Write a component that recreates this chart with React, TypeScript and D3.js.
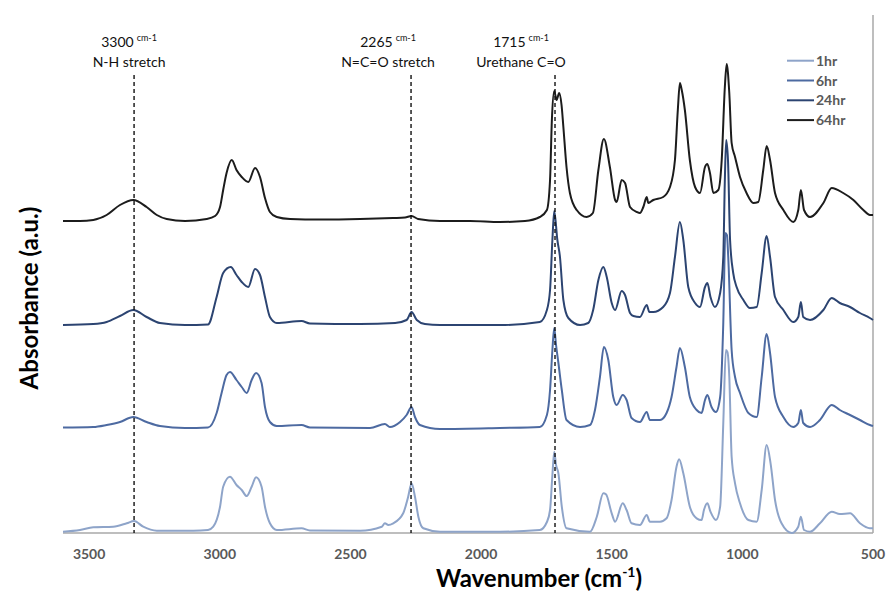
import React from "react";
import * as d3 from "d3";

// spectra: [wavenumber (cm-1), absorbance incl. stacking offset]
const hr1: [number, number][] = [
  [3600, 0.013], [3535, 0.03], [3484, 0.057], [3408, 0.063], [3356, 0.097], [3328, 0.12],
  [3293, 0.063], [3241, 0.023], [3101, 0.023], [3045, 0.03], [3025, 0.063], [2999, 0.263],
  [2987, 0.463], [2961, 0.563], [2936, 0.48], [2916, 0.43], [2897, 0.37], [2878, 0.463],
  [2861, 0.557], [2840, 0.463], [2827, 0.263], [2808, 0.097], [2782, 0.03], [2687, 0.047],
  [2655, 0.025], [2463, 0.023], [2380, 0.063], [2368, 0.097], [2355, 0.08], [2336, 0.097],
  [2298, 0.197], [2279, 0.363], [2266, 0.497], [2253, 0.363], [2240, 0.163], [2221, 0.047],
  [2157, 0.013], [1928, 0.013], [1775, 0.03], [1748, 0.11], [1736, 0.23], [1727, 0.58],
  [1720, 0.813], [1713, 0.68], [1704, 0.597], [1691, 0.263], [1673, 0.047], [1583, 0.013],
  [1557, 0.163], [1532, 0.397], [1522, 0.387], [1500, 0.197], [1487, 0.113], [1458, 0.297],
  [1443, 0.23], [1424, 0.097], [1392, 0.08], [1366, 0.18], [1354, 0.113], [1315, 0.113],
  [1290, 0.147], [1271, 0.33], [1252, 0.663], [1242, 0.737], [1226, 0.597], [1201, 0.263],
  [1175, 0.147], [1156, 0.13], [1147, 0.23], [1134, 0.297], [1122, 0.213], [1101, 0.13],
  [1085, 0.263], [1073, 1.097], [1063, 1.83], [1057, 1.81], [1050, 1.563], [1041, 0.763],
  [1028, 0.497], [1009, 0.297], [977, 0.13], [945, 0.113], [926, 0.43], [907, 0.88],
  [892, 0.697], [875, 0.33], [850, 0.097], [811, 0.0], [786, 0.063], [776, 0.163],
  [764, 0.03], [741, 0.013], [703, 0.097], [658, 0.213], [627, 0.19], [588, 0.197],
  [550, 0.097], [512, 0.047], [500, 0.047],
];

const hr6: [number, number][] = [
  [3600, 1.055], [3484, 1.06], [3433, 1.08], [3382, 1.11], [3331, 1.16], [3280, 1.11],
  [3229, 1.07], [3133, 1.05], [3045, 1.055], [3012, 1.2], [2993, 1.4], [2974, 1.58],
  [2961, 1.61], [2936, 1.53], [2916, 1.46], [2897, 1.4], [2878, 1.53], [2861, 1.6],
  [2840, 1.5], [2827, 1.26], [2808, 1.11], [2782, 1.07], [2687, 1.08], [2655, 1.055],
  [2425, 1.05], [2368, 1.09], [2349, 1.06], [2310, 1.11], [2285, 1.18], [2266, 1.26],
  [2253, 1.16], [2234, 1.08], [2157, 1.04], [1928, 1.05], [1775, 1.06], [1748, 1.18],
  [1736, 1.43], [1727, 1.83], [1720, 2.05], [1713, 1.88], [1704, 1.7], [1691, 1.43],
  [1673, 1.13], [1621, 1.06], [1583, 1.08], [1564, 1.23], [1545, 1.56], [1530, 1.86],
  [1513, 1.73], [1494, 1.36], [1481, 1.28], [1458, 1.38], [1443, 1.33], [1424, 1.15],
  [1392, 1.11], [1366, 1.21], [1354, 1.13], [1315, 1.13], [1290, 1.2], [1271, 1.36],
  [1252, 1.66], [1239, 1.85], [1220, 1.66], [1201, 1.36], [1175, 1.23], [1156, 1.2],
  [1143, 1.33], [1134, 1.38], [1118, 1.26], [1101, 1.21], [1085, 1.36], [1073, 2.1],
  [1065, 3.0], [1059, 2.98], [1054, 2.76], [1041, 1.83], [1028, 1.56], [1009, 1.4],
  [977, 1.2], [945, 1.16], [926, 1.56], [907, 1.99], [894, 1.8], [875, 1.36], [843, 1.16],
  [805, 1.06], [786, 1.1], [776, 1.23], [767, 1.1], [741, 1.06], [703, 1.13], [658, 1.28],
  [627, 1.23], [588, 1.18], [550, 1.13], [512, 1.08], [500, 1.07],
];

const hr24: [number, number][] = [
  [3600, 2.08], [3484, 2.09], [3433, 2.11], [3382, 2.17], [3331, 2.23], [3280, 2.16],
  [3229, 2.1], [3133, 2.08], [3045, 2.085], [3012, 2.36], [2987, 2.6], [2958, 2.66],
  [2936, 2.58], [2916, 2.51], [2891, 2.46], [2865, 2.64], [2846, 2.58], [2827, 2.36],
  [2808, 2.16], [2782, 2.1], [2687, 2.12], [2655, 2.095], [2463, 2.09], [2329, 2.1],
  [2285, 2.13], [2266, 2.21], [2246, 2.13], [2215, 2.09], [2157, 2.08], [1928, 2.08],
  [1775, 2.11], [1748, 2.23], [1736, 2.43], [1727, 2.93], [1720, 3.22], [1708, 2.93],
  [1698, 2.76], [1685, 2.33], [1666, 2.15], [1621, 2.08], [1590, 2.1], [1571, 2.23],
  [1551, 2.53], [1532, 2.66], [1519, 2.56], [1500, 2.3], [1487, 2.23], [1462, 2.42],
  [1449, 2.38], [1430, 2.2], [1417, 2.17], [1392, 2.16], [1366, 2.28], [1356, 2.21],
  [1341, 2.21], [1303, 2.26], [1277, 2.4], [1258, 2.76], [1239, 3.11], [1226, 2.93],
  [1207, 2.46], [1181, 2.3], [1162, 2.26], [1143, 2.46], [1134, 2.5], [1122, 2.36],
  [1105, 2.26], [1085, 2.4], [1073, 2.76], [1067, 3.53], [1062, 3.93], [1055, 3.73],
  [1047, 2.93], [1035, 2.6], [1022, 2.46], [996, 2.33], [971, 2.25], [945, 2.26],
  [926, 2.6], [907, 2.97], [894, 2.76], [875, 2.36], [843, 2.23], [805, 2.11], [786, 2.16],
  [776, 2.31], [767, 2.16], [741, 2.13], [690, 2.23], [658, 2.35], [627, 2.3], [588, 2.26],
  [550, 2.2], [512, 2.15], [500, 2.13],
];

const hr64: [number, number][] = [
  [3600, 3.12], [3535, 3.12], [3484, 3.13], [3433, 3.18], [3382, 3.28], [3331, 3.33],
  [3280, 3.26], [3241, 3.18], [3203, 3.14], [3133, 3.12], [3050, 3.14], [3018, 3.17],
  [2999, 3.26], [2987, 3.43], [2974, 3.6], [2954, 3.73], [2936, 3.63], [2916, 3.56],
  [2891, 3.51], [2865, 3.65], [2846, 3.56], [2827, 3.35], [2808, 3.21], [2782, 3.16],
  [2731, 3.14], [2616, 3.135], [2463, 3.14], [2337, 3.15], [2291, 3.155], [2266, 3.17],
  [2241, 3.14], [2157, 3.12], [2042, 3.12], [1928, 3.11], [1832, 3.12], [1775, 3.16],
  [1748, 3.23], [1736, 3.53], [1729, 4.13], [1720, 4.42], [1711, 4.33], [1701, 4.4],
  [1692, 4.28], [1685, 4.06], [1673, 3.66], [1660, 3.4], [1634, 3.23], [1596, 3.16],
  [1572, 3.2], [1551, 3.63], [1530, 3.94], [1507, 3.66], [1487, 3.33], [1481, 3.31],
  [1462, 3.53], [1449, 3.5], [1430, 3.26], [1404, 3.21], [1392, 3.2], [1379, 3.26],
  [1366, 3.36], [1360, 3.3], [1341, 3.33], [1303, 3.36], [1277, 3.46], [1258, 3.73],
  [1247, 4.23], [1239, 4.5], [1232, 4.43], [1220, 4.23], [1201, 3.73], [1181, 3.46],
  [1162, 3.4], [1143, 3.66], [1134, 3.69], [1124, 3.6], [1111, 3.4], [1092, 3.43],
  [1079, 3.73], [1067, 4.46], [1060, 4.69], [1050, 4.4], [1041, 3.9], [1028, 3.76],
  [1009, 3.56], [984, 3.4], [958, 3.3], [939, 3.31], [920, 3.63], [907, 3.87], [894, 3.73],
  [875, 3.4], [843, 3.23], [805, 3.11], [786, 3.23], [776, 3.43], [764, 3.23], [741, 3.16],
  [690, 3.3], [658, 3.45], [614, 3.4], [575, 3.33], [537, 3.23], [512, 3.18], [500, 3.18],
];

const seriesNames = ["1hr", "6hr", "24hr", "64hr"];
const seriesData = [hr1, hr6, hr24, hr64];
const seriesColors = ["#8ea4c9", "#4d6aa1", "#2c4471", "#1c1c1c"];

const xTicks = [3500, 3000, 2500, 2000, 1500, 1000, 500];

// dashed marker lines: where drawn, label number, label text
const markerWn = [3328, 2268, 1717];
const markerValue = ["3300", "2265", "1715"];
const markerName = ["N-H stretch", "N=C=O stretch", "Urethane C=O"];

const W = 888;
const H = 594;
const plot = { left: 63, right: 873, top: 15, bottom: 533 };
const font = "Lato, 'Open Sans', sans-serif";

export default function App() {
  const x = d3.scaleLinear().domain([3600, 500]).range([plot.left, plot.right]);
  const y = d3.scaleLinear().domain([0, 5.18]).range([plot.bottom, plot.top]);
  const line = d3
    .line<[number, number]>()
    .x((d) => x(d[0]))
    .y((d) => y(d[1]))
    .curve(d3.curveMonotoneX);

  const labelShift = [-5, -23, -34];

  return (
    <svg
      width={W}
      height={H}
      style={{ position: "absolute", left: 0, top: 0, background: "#fff" }}
      fontFamily={font}
    >
      {/* axis lines */}
      <line x1={plot.left} x2={plot.right} y1={plot.bottom} y2={plot.bottom} stroke="#a9a9a9" strokeWidth={1.5} />
      <line x1={plot.right} x2={plot.right} y1={plot.top} y2={plot.bottom} stroke="#a9a9a9" strokeWidth={1.5} />

      {xTicks.map((t) => (
        <text key={t} x={x(t)} y={559} textAnchor="middle" fontSize={14} fontWeight="bold" fill="#595959">
          {t}
        </text>
      ))}

      {seriesData.map((s, i) => (
        <path key={seriesNames[i]} d={line(s) || ""} fill="none" stroke={seriesColors[i]} strokeWidth={2} strokeLinejoin="round" />
      ))}

      {markerWn.map((wn, i) => (
        <g key={wn}>
          <line x1={x(wn)} x2={x(wn)} y1={75} y2={plot.bottom} stroke="#111" strokeWidth={1.4} strokeDasharray="4,3" />
          <text x={x(wn) + labelShift[i]} y={47} textAnchor="middle" fontSize={14} fill="#111">
            {markerValue[i]}
            <tspan fontSize={9} dx={3} dy={-6}>cm-1</tspan>
          </text>
          <text x={x(wn) + labelShift[i]} y={67} textAnchor="middle" fontSize={14} fill="#111">
            {markerName[i]}
          </text>
        </g>
      ))}

      {/* legend */}
      {seriesNames.map((n, i) => {
        const ly = 60.7 + i * 19.8;
        return (
          <g key={n}>
            <line x1={787} x2={814} y1={ly} y2={ly} stroke={seriesColors[i]} strokeWidth={2} />
            <text x={816} y={ly + 5} fontSize={14} fontWeight="bold" fill="#595959">
              {n}
            </text>
          </g>
        );
      })}

      {/* axis titles */}
      <text x={539} y={587} textAnchor="middle" fontSize={24} fontWeight="bold" fill="#000">
        Wavenumber (cm<tspan fontSize={14} dy={-10}>-1</tspan>
        <tspan dy={10}>)</tspan>
      </text>
      <text transform="translate(38,298) rotate(-90)" textAnchor="middle" fontSize={24} fontWeight="bold" fill="#000">
        Absorbance (a.u.)
      </text>
    </svg>
  );
}
